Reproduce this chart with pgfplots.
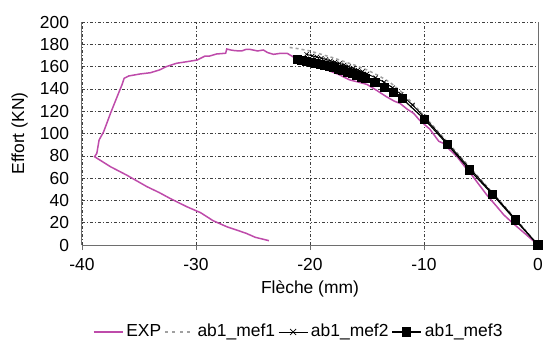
\documentclass[border=0pt]{standalone}
\usepackage{pgfplots}
\pgfplotsset{compat=1.18}
\usepackage{fontspec}
\setmainfont{Liberation Sans}
\definecolor{expc}{RGB}{190,75,170}
\definecolor{axc}{RGB}{110,110,110}
\definecolor{mef1c}{RGB}{160,160,160}
\begin{document}
\fontsize{17.5}{21}\selectfont
\begin{tikzpicture}
\begin{axis}[
  name=ax, anchor=south west, at={(0,0)},
  scale only axis, width=456bp, height=223bp,
  xmin=-40, xmax=0, ymin=0, ymax=200,
  xtick={-40,-30,-20,-10,0}, ytick={0,20,...,200},
  /pgf/number format/assume math mode=true,
  ticklabel style={font=\fontsize{17.5}{21}\selectfont},
  label style={font=\fontsize{17.5}{21}\selectfont},
  xlabel={Flèche (mm)}, ylabel={Effort (KN)},
  xlabel style={at={(rel axis cs:0.5,-0.195)}, anchor=center},
  ylabel style={at={(rel axis cs:-0.137,0.5)}, anchor=center},
  yticklabel style={xshift=-7bp},
  xticklabel style={yshift=-2bp},
  axis x line*=bottom, axis y line*=left,
  axis line style={axc, line width=1bp, -},
  x tick style={axc, line width=0.8bp}, ytick style={draw=none},
  major tick length=5bp, tick pos=left, xtick align=outside,
  grid=major,
  grid style={black!75, line width=0.6bp, dash pattern=on 3bp off 2bp on 1bp off 2bp},
  clip=false,
  legend columns=4,
  legend style={draw=none, fill=none, at={(rel axis cs:0.4745,-0.39)}, anchor=center,
    font=\fontsize{17.5}{21}\selectfont, column sep=1.5bp, inner sep=0pt,
    nodes={inner xsep=1.5bp}},
]
\draw[axc, line width=1bp] (rel axis cs:1,0) -- (rel axis cs:1,1);
\addplot[expc, line width=1.5bp, mark=none,
  legend image code/.code={\draw[expc, line width=1.5bp] (0bp,0bp) -- (29bp,0bp);}] coordinates {
(0,0) (-1,9) (-2.2,19.5) (-3,27) (-3.6,34.3) (-4.5,45) (-5.7,61.3) (-6.4,70) (-7.1,79.2)
(-7.8,86) (-8.3,91.2) (-8.7,93) (-9.5,104) (-10.4,112) (-10.9,118) (-11.5,122) (-12.1,127)
(-12.6,129) (-13.3,133) (-14.2,139) (-15,144) (-15.7,146) (-16.5,148) (-17.5,153) (-18.5,157)
(-19.5,161) (-20.5,165) (-21.5,168.9) (-22,171.9) (-22.6,171.9) (-23.2,171) (-23.7,172.5)
(-24.1,174.9) (-24.6,174) (-25,174.9) (-25.3,175.5) (-25.6,175.5) (-26,174) (-26.6,174.3)
(-27,175) (-27.3,175.8) (-27.4,172) (-27.5,171.9) (-28.2,171.3) (-28.8,169.5) (-29.2,169.5)
(-29.9,165.9) (-30.8,164.4) (-31.7,163) (-32.6,160) (-33.2,157) (-34,154.5) (-34.9,153.4)
(-35.9,151.6) (-36.3,149.5) (-36.5,143.5) (-36.8,136) (-37.5,118.1) (-38.1,101.6)
(-38.5,94.2) (-38.7,82.2) (-38.9,79.2) (-37.5,70.2) (-36.1,62.8) (-34.3,52.3) (-33.2,46.9)
(-32.3,41.9) (-30.8,34.3) (-29.6,29) (-28.5,21.8) (-27.3,16.4) (-25.6,10.5) (-24.8,6.9)
(-23.6,3.9)
};
\addplot[mef1c, line width=1.5bp, dash pattern=on 3bp off 3bp, mark=none,
  legend image code/.code={\draw[mef1c, line width=1.4bp, dash pattern=on 3bp off 4.5bp] (0bp,0bp) -- (29bp,0bp);}] coordinates {
(0,0) (-2,24) (-4,47) (-6,70) (-8,93) (-10,116) (-11,127) (-12,137.5) (-13,146) (-14,152)
(-15,157) (-16,161) (-17,164.5) (-18,168) (-19,171) (-20,174) (-21,176) (-22,177.5)
};
\addplot[black, line width=0.9bp, mark=x, mark size=3bp, mark options={line width=0.7bp},
  legend image code/.code={\draw[black, line width=0.9bp] (0bp,0bp) -- (29bp,0bp); \draw[black,line width=0.7bp] (11.5bp,-3bp) -- (17.5bp,3bp) (11.5bp,3bp) -- (17.5bp,-3bp);}] coordinates {
(0,0) (-2,23.5) (-4,46.5) (-6,69) (-8,92) (-10,115) (-11,125.5) (-12,135) (-12.75,141)
(-13.5,146) (-14.25,150) (-15,153.5) (-15.4,155.5) (-15.8,157) (-16.2,158.5) (-16.6,160)
(-17,161.5) (-17.4,162.8) (-17.8,164) (-18.2,165.2) (-18.6,166.4) (-19,167.5) (-19.4,168.6)
(-19.8,169.6) (-20.3,171)
};
\addplot[black, line width=1.2bp, mark=square*, mark size=4bp,
  legend image code/.code={\draw[black, line width=1.4bp] (0bp,0bp) -- (29bp,0bp); \fill[black] (10.5bp,-4bp) rectangle (18.5bp,4bp);}] coordinates {
(0,0) (-2,22.4) (-4,45.5) (-6,67.3) (-7.95,90.3) (-9.95,112.7) (-11.9,131.2) (-12.7,136.6)
(-13.5,141.1) (-14.3,145.6) (-15.1,149.2) (-15.5,150.7) (-15.9,152.2) (-16.3,153.6)
(-16.7,155) (-17.1,156.4) (-17.5,157.7) (-17.9,158.9) (-18.3,160) (-18.7,161.1) (-19.1,162.1)
(-19.5,163.1) (-19.9,164) (-20.3,164.9) (-20.7,165.7) (-21.1,166.5)
};
\legend{EXP,ab1\_mef1,ab1\_mef2,ab1\_mef3}
\end{axis}
\pgfresetboundingbox
\path (-82bp,-98bp) rectangle (461bp,245bp);
\end{tikzpicture}
\end{document}
